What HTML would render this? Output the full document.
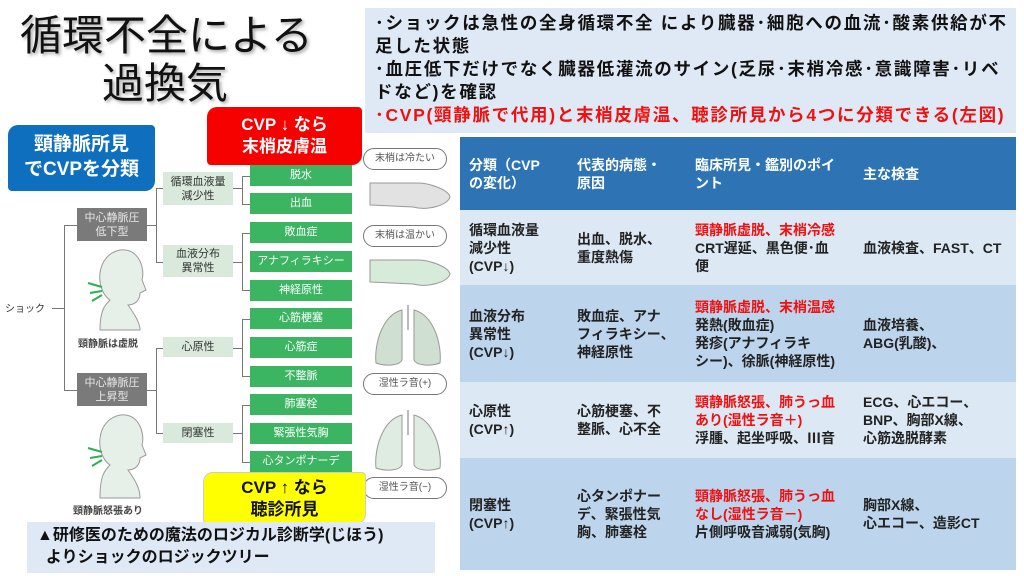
<!DOCTYPE html>
<html><head><meta charset="utf-8"><style>
*{margin:0;padding:0;box-sizing:border-box}
body{width:1024px;height:576px;background:#fff;position:relative;overflow:hidden;font-family:"Liberation Sans","Noto Sans CJK JP",sans-serif}
.a{position:absolute}
.g{position:absolute;left:250px;width:102px;height:21px;background:#3cb563;color:#fff;font-size:11px;text-align:center;line-height:21px}
.c{position:absolute;left:163px;width:70px;background:#d9eadc;color:#333;font-size:11px;text-align:center;line-height:14px;display:flex;align-items:center;justify-content:center}
.gr{position:absolute;left:77px;width:70px;height:33px;background:#7a7a7a;color:#e8e8e8;font-size:11px;text-align:center;line-height:14px;padding-top:3px}
.l{position:absolute;background:#777}
.bub{position:absolute;left:363px;width:84px;height:22px;border:1.5px solid #777;border-radius:11px;background:#fff;font-size:10px;color:#555;text-align:center;line-height:19px}
table{position:absolute;left:460px;top:137px;width:556px;border-collapse:collapse;font-size:14px;font-weight:bold;color:#222;line-height:18px}
td{vertical-align:middle;padding:0 0 0 9px}
.r{color:#f01010}
</style></head><body>
<div class="a" style="left:20px;top:12px;font-size:42px;line-height:48px;color:#111;text-shadow:2px 2px 3px #aaa">循環不全による<br><span style="padding-left:82px">過換気</span></div>

<div class="a" style="left:365px;top:8px;width:651px;height:125px;background:#dfe9f5;padding:4px 0 4px 10px;font-size:17.5px;line-height:23px;color:#111;font-weight:bold;letter-spacing:1.7px;white-space:nowrap;overflow:hidden">･ショックは急性の全身循環不全 により臓器･細胞への血流･酸素供給が不<br>足した状態<br>･血圧低下だけでなく臓器低灌流のサイン(乏尿･末梢冷感･意識障害･リベ<br>ドなど)を確認<br><span style="color:#f01010">･CVP(頸静脈で代用)と末梢皮膚温、聴診所見から4つに分類できる(左図)</span></div>

<!-- tree lines -->
<div class="a" style="left:5px;top:300px;font-size:10px;color:#333">ショック</div>
<div class="l" style="left:52px;top:308px;width:13px;height:1px"></div>
<div class="l" style="left:64px;top:225px;width:1px;height:165px"></div>
<div class="l" style="left:64px;top:225px;width:13px;height:1px"></div>
<div class="l" style="left:64px;top:390px;width:13px;height:1px"></div>
<div class="l" style="left:147px;top:225px;width:9px;height:1px"></div>
<div class="l" style="left:147px;top:390px;width:9px;height:1px"></div>
<div class="l" style="left:156px;top:188px;width:1px;height:74px"></div>
<div class="l" style="left:156px;top:348px;width:1px;height:85px"></div>
<div class="l" style="left:156px;top:188px;width:7px;height:1px"></div>
<div class="l" style="left:156px;top:262px;width:7px;height:1px"></div>
<div class="l" style="left:156px;top:348px;width:7px;height:1px"></div>
<div class="l" style="left:156px;top:433px;width:7px;height:1px"></div>
<div class="l" style="left:233px;top:188px;width:9px;height:1px"></div>
<div class="l" style="left:233px;top:262px;width:9px;height:1px"></div>
<div class="l" style="left:233px;top:348px;width:9px;height:1px"></div>
<div class="l" style="left:233px;top:433px;width:9px;height:1px"></div>
<div class="l" style="left:242px;top:176px;width:1px;height:28px"></div>
<div class="l" style="left:242px;top:233px;width:1px;height:57px"></div>
<div class="l" style="left:242px;top:319px;width:1px;height:57px"></div>
<div class="l" style="left:242px;top:405px;width:1px;height:57px"></div>
<div class="l" style="left:242px;top:176px;width:8px;height:1px"></div>
<div class="l" style="left:242px;top:204px;width:8px;height:1px"></div>
<div class="l" style="left:242px;top:233px;width:8px;height:1px"></div>
<div class="l" style="left:242px;top:290px;width:8px;height:1px"></div>
<div class="l" style="left:242px;top:319px;width:8px;height:1px"></div>
<div class="l" style="left:242px;top:376px;width:8px;height:1px"></div>
<div class="l" style="left:242px;top:405px;width:8px;height:1px"></div>
<div class="l" style="left:242px;top:462px;width:8px;height:1px"></div>

<div class="gr" style="top:208px">中心静脈圧<br>低下型</div>
<div class="gr" style="top:373px">中心静脈圧<br>上昇型</div>
<div class="c" style="top:172px;height:33px">循環血液量<br>減少性</div>
<div class="c" style="top:245px;height:32px">血液分布<br>異常性</div>
<div class="c" style="top:337px;height:20px">心原性</div>
<div class="c" style="top:423px;height:20px">閉塞性</div>

<div class="g" style="top:165px">脱水</div>
<div class="g" style="top:193px">出血</div>
<div class="g" style="top:222px">敗血症</div>
<div class="g" style="top:251px">アナフィラキシー</div>
<div class="g" style="top:280px">神経原性</div>
<div class="g" style="top:308px">心筋梗塞</div>
<div class="g" style="top:337px">心筋症</div>
<div class="g" style="top:366px">不整脈</div>
<div class="g" style="top:394px">肺塞栓</div>
<div class="g" style="top:423px">緊張性気胸</div>
<div class="g" style="top:451px">心タンポナーデ</div>

<!-- heads -->
<svg class="a" style="left:80px;top:245px" width="70" height="90"><path d="M20 85 C20 65 25 60 30 55 C15 45 15 10 40 5 C60 3 65 25 62 35 L66 45 L60 48 C60 55 55 60 48 60 C55 70 60 78 60 85 Z" fill="#e6f0e8" stroke="#999"/><path d="M8 38 L22 42 M10 48 L22 46 M12 56 L22 50" stroke="#2cb050" stroke-width="2"/></svg>
<div class="a" style="left:78px;top:335px;font-size:10px;color:#444;font-weight:bold">頸静脈は虚脱</div>
<svg class="a" style="left:80px;top:410px" width="70" height="90"><path d="M20 88 C20 65 25 60 30 55 C15 45 15 10 40 5 C60 3 65 25 62 35 L66 45 L60 48 C60 55 55 60 48 60 C55 70 60 78 60 88 Z" fill="#e6f0e8" stroke="#999"/><path d="M8 38 L22 42 M10 48 L22 46 M12 56 L22 50" stroke="#2cb050" stroke-width="2"/></svg>
<div class="a" style="left:73px;top:502px;font-size:10px;color:#444;font-weight:bold">頸静脈怒張あり</div>

<!-- right illustrations -->
<div class="bub" style="top:148px">末梢は冷たい</div>
<svg class="a" style="left:368px;top:175px" width="84" height="45"><path d="M2 8 L50 8 C60 8 80 14 82 22 C80 30 60 36 45 32 L2 30 Z" fill="#e2e2e2" stroke="#999"/></svg>
<div class="bub" style="top:225px">末梢は温かい</div>
<svg class="a" style="left:368px;top:252px" width="84" height="45"><path d="M2 8 L50 8 C60 8 80 14 82 22 C80 30 60 36 45 32 L2 30 Z" fill="#d6ebd9" stroke="#999"/></svg>
<svg class="a" style="left:372px;top:305px" width="72" height="65"><path d="M30 5 C10 10 2 40 4 58 C15 62 28 60 30 55 Z M42 5 C62 10 70 40 68 58 C57 62 44 60 42 55 Z" fill="#cfe0d2" stroke="#999"/><line x1="36" y1="0" x2="36" y2="25" stroke="#bbb" stroke-width="2"/></svg>
<div class="bub" style="top:373px">湿性ラ音(+)</div>
<svg class="a" style="left:372px;top:410px" width="72" height="65"><path d="M30 5 C10 10 2 40 4 58 C15 62 28 60 30 55 Z M42 5 C62 10 70 40 68 58 C57 62 44 60 42 55 Z" fill="#dfece1" stroke="#999"/><line x1="36" y1="0" x2="36" y2="25" stroke="#bbb" stroke-width="2"/></svg>
<div class="bub" style="top:477px">湿性ラ音(−)</div>

<!-- banners -->
<div class="a" style="left:8px;top:125px;width:147px;height:66px;background:#0f6fbf;color:#fff;font-weight:bold;font-size:19px;line-height:25px;text-align:center;padding-top:7px;border-radius:10px 4px 10px 4px">頸静脈所見<br>でCVPを分類</div>
<div class="a" style="left:207px;top:107px;width:155px;height:58px;background:#f70000;color:#fff;font-weight:bold;font-size:17px;line-height:22px;text-align:center;padding-top:7px;border-radius:10px 4px 10px 4px">CVP ↓ なら<br>末梢皮膚温</div>
<div class="a" style="left:203px;top:472px;width:163px;height:52px;background:#ffff00;color:#111;font-weight:bold;font-size:17px;line-height:22px;text-align:center;padding-top:4px;border:1px solid #ccc;border-radius:10px 4px 10px 4px">CVP ↑ なら<br>聴診所見</div>

<div class="a" style="left:27px;top:522px;width:408px;height:51px;background:#dfe9f5;padding:3px 0 0 10px;font-size:16px;line-height:22px;color:#111;font-weight:bold">▲研修医のための魔法のロジカル診断学(じほう)<br>&nbsp;&nbsp;よりショックのロジックツリー</div>

<table>
<tr style="height:73px;background:#2e74b5;color:#fff"><td style="width:108px">分類（CVP<br>の変化）</td><td style="width:118px">代表的病態・<br>原因</td><td style="width:168px">臨床所見・鑑別のポイ<br>ント</td><td>主な検査</td></tr>
<tr style="height:75px;background:#dce8f4"><td>循環血液量<br>減少性<br>(CVP↓)</td><td>出血、脱水、<br>重度熱傷</td><td><span class="r">頸静脈虚脱、末梢冷感</span><br>CRT遅延、黒色便･血<br>便</td><td>血液検査、FAST、CT</td></tr>
<tr style="height:97px;background:#bcd5ec"><td>血液分布<br>異常性<br>(CVP↓)</td><td>敗血症、アナ<br>フィラキシー、<br>神経原性</td><td><span class="r">頸静脈虚脱、末梢温感</span><br>発熱(敗血症)<br>発疹(アナフィラキ<br>シー)、徐脈(神経原性)</td><td>血液培養、<br>ABG(乳酸)、</td></tr>
<tr style="height:76px;background:#dce8f4"><td>心原性<br>(CVP↑)</td><td>心筋梗塞、不<br>整脈、心不全</td><td><span class="r">頸静脈怒張、肺うっ血<br>あり(湿性ラ音＋)</span><br>浮腫、起坐呼吸、Ⅲ音</td><td>ECG、心エコー、<br>BNP、胸部X線、<br>心筋逸脱酵素</td></tr>
<tr style="height:112px;background:#bcd5ec"><td>閉塞性<br>(CVP↑)</td><td>心タンポナー<br>デ、緊張性気<br>胸、肺塞栓</td><td><span class="r">頸静脈怒張、肺うっ血<br>なし(湿性ラ音－)</span><br>片側呼吸音減弱(気胸)</td><td>胸部X線、<br>心エコー、造影CT</td></tr>
</table>
</body></html>
